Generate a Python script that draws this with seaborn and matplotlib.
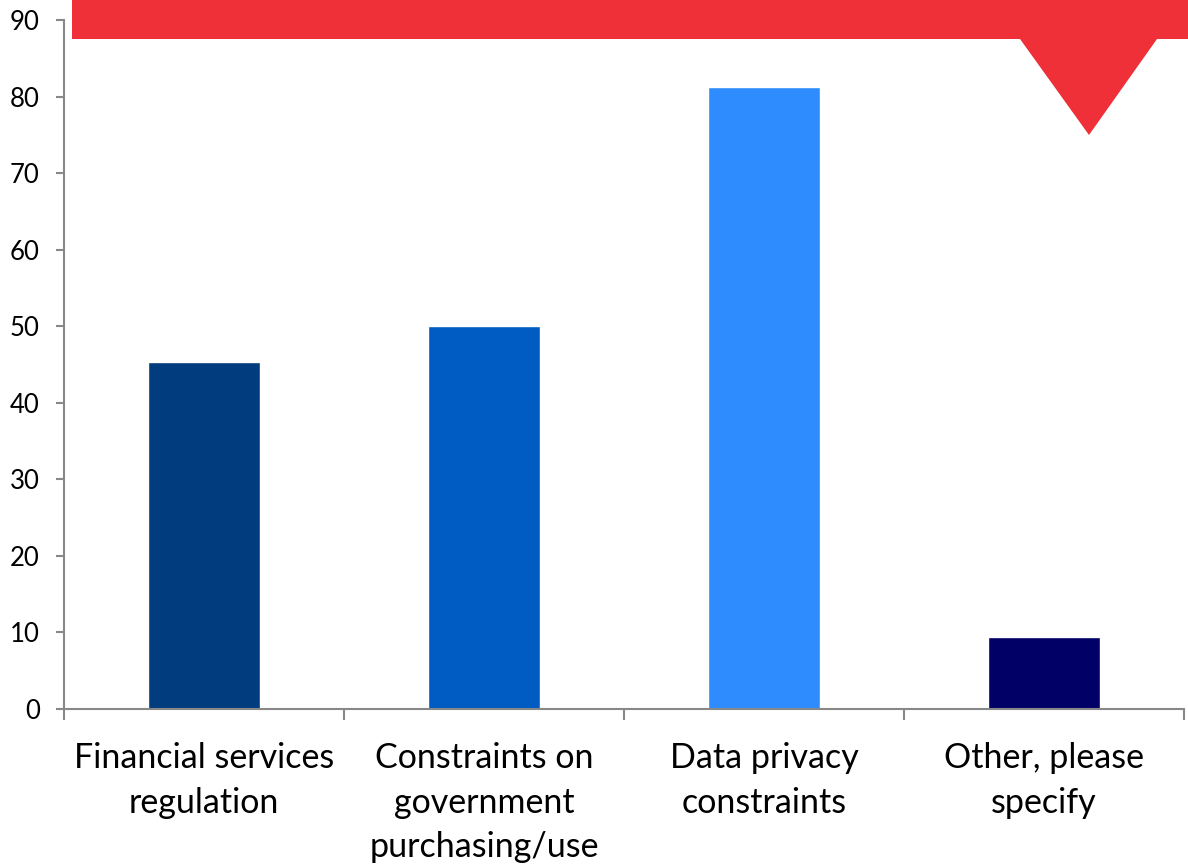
import matplotlib
matplotlib.use("Agg")
import matplotlib.pyplot as plt
from matplotlib.patches import Polygon
import seaborn as sns
import pandas as pd

categories = [
    "Financial services\nregulation",
    "Constraints on\ngovernment\npurchasing/use",
    "Data privacy\nconstraints",
    "Other, please\nspecify",
]
values = [45.3, 50.0, 81.3, 9.4]
bar_colors = ["#003C7E", "#005BC2", "#2E8CFF", "#000066"]
y_ticks = [0, 10, 20, 30, 40, 50, 60, 70, 80, 90]

sns.set_theme(style="white")
plt.rcParams["font.family"] = ["Lato", "DejaVu Sans"]

W, H = 1188, 868
fig = plt.figure(figsize=(W / 100, H / 100), dpi=100)
ax = fig.add_axes([64 / W, 1 - 709 / H, (1184 - 64) / W, (709 - 20) / H])

df = pd.DataFrame({"category": categories, "value": values})
sns.barplot(data=df, x="category", y="value", hue="category",
            palette=bar_colors, width=0.4, legend=False, saturation=1,
            ax=ax)

ax.set_xlim(-0.5, len(categories) - 0.5)
ax.set_ylim(0, 90)
ax.set_yticks(y_ticks)
ax.set_xlabel("")
ax.set_ylabel("")

axis_grey = "#888888"
for side in ["top", "right"]:
    ax.spines[side].set_visible(False)
for side in ["left", "bottom"]:
    ax.spines[side].set_color(axis_grey)
    ax.spines[side].set_linewidth(1.5)

ax.tick_params(axis="y", which="major", direction="out", length=5.5,
               width=1.5, color=axis_grey, labelsize=18.5, pad=12,
               labelcolor="black", left=True)
ax.tick_params(axis="x", which="major", length=0, labelsize=24.5,
               pad=24, labelcolor="black")
# category boundary ticks below the axis
ax.set_xticks([i - 0.5 for i in range(len(categories) + 1)], minor=True)
ax.tick_params(axis="x", which="minor", direction="out", length=8,
               width=1.5, color=axis_grey, bottom=True)
for lbl in ax.get_xticklabels():
    lbl.set_linespacing(1.47)
    lbl.set_verticalalignment("top")

# red banner with pointer across the top
red = "#EF3038"
banner = Polygon(
    [(72 / W, 1.0), (1.0, 1.0), (1.0, 1 - 39 / H), (1157 / W, 1 - 39 / H),
     (1089 / W, 1 - 135 / H), (1020 / W, 1 - 39 / H), (72 / W, 1 - 39 / H)],
    closed=True, transform=fig.transFigure, facecolor=red, edgecolor="none",
    zorder=10)
fig.patches.append(banner)

fig.savefig("out.png", dpi=100)
